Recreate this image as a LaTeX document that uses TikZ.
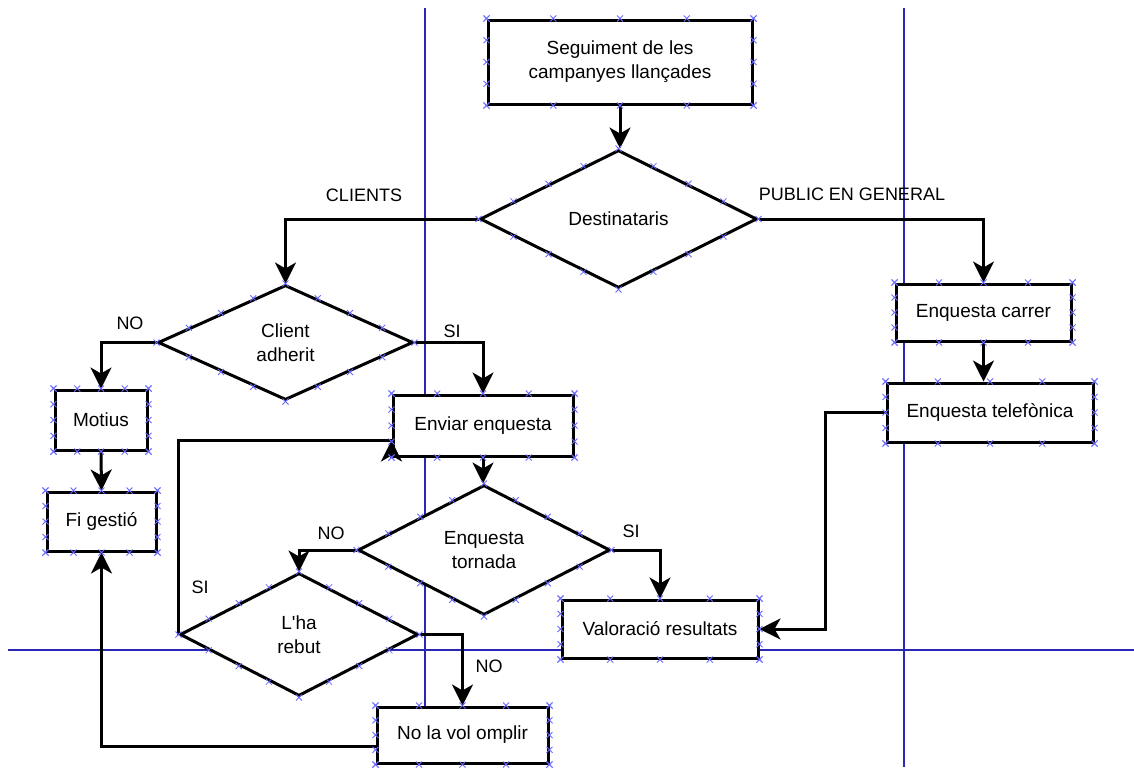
\documentclass[tikz,border=0pt]{standalone}
\usepackage{fontspec}
\setmainfont{Liberation Sans}[Ligatures=TeXOff]
\usetikzlibrary{shapes.geometric,arrows.meta,calc}
\definecolor{guide}{RGB}{40,40,180}
\definecolor{portblue}{RGB}{105,105,255}

% connection-point crosses along the borders of a box
\newcommand\boxports[1]{%
  \foreach \t in {0,0.25,0.5,0.75,1}{%
    \pic at ($(#1.north west)!\t!(#1.north east)$) {xmark};
    \pic at ($(#1.south west)!\t!(#1.south east)$) {xmark};
    \pic at ($(#1.north west)!\t!(#1.south west)$) {xmark};
    \pic at ($(#1.north east)!\t!(#1.south east)$) {xmark};
  }}
% connection-point crosses along the edges of a decision
\newcommand\decports[1]{%
  \foreach \t in {0,0.25,0.5,0.75}{%
    \pic at ($(#1.north)!\t!(#1.east)$) {xmark};
    \pic at ($(#1.east)!\t!(#1.south)$) {xmark};
    \pic at ($(#1.south)!\t!(#1.west)$) {xmark};
    \pic at ($(#1.west)!\t!(#1.north)$) {xmark};
  }}

\begin{document}
\begin{tikzpicture}[x=1pt,y=-1pt,
  line join=miter,
  every node/.style={font=\fontsize{19}{24}\selectfont, align=center, inner sep=0pt},
  box/.style={draw, rectangle, line width=3pt, fill=white},
  decision/.style={draw, diamond, aspect=2, line width=3pt, fill=white},
  lbl/.style={font=\fontsize{18}{22}\selectfont},
  wire/.style={line width=3pt},
  conn/.style={line width=3pt, -{Stealth[length=21pt,width=21pt,inset=6pt]}},
  guideline/.style={guide, line width=1.5pt},
  xmark/.pic={\draw[portblue, line width=0.8pt] (-3,-3) -- (3,3) (-3,3) -- (3,-3);}]

\useasboundingbox (0,0) rectangle (1134,772);

% guide lines behind the chart
\draw[guideline] (425,8) -- (425,707);
\draw[guideline] (904,8) -- (904,767);
\draw[guideline] (8,650) -- (1134,650);

% steps and decisions
\node[box, minimum width=264pt, minimum height=84pt] (S) at (620,62) {Seguiment de les\\campanyes llançades};
\node[decision, minimum width=277pt, minimum height=138pt] (D) at (618.5,219) {Destinataris};
\node[decision, minimum width=255pt, minimum height=115pt] (CA) at (285.5,342.5) {Client\\adherit};
\node[box, minimum width=180pt, minimum height=61pt] (E) at (483,425.5) {Enviar enquesta};
\node[decision, minimum width=252pt, minimum height=130pt] (ET) at (484,550) {Enquesta\\tornada};
\node[decision, minimum width=238pt, minimum height=123pt] (L) at (299,634.5) {L'ha\\rebut};
\node[box, minimum width=171pt, minimum height=56pt] (N) at (462.5,735) {No la vol omplir};
\node[box, minimum width=196pt, minimum height=58pt] (V) at (660,629) {Valoració resultats};
\node[box, minimum width=175pt, minimum height=57pt] (C) at (983.5,312.5) {Enquesta carrer};
\node[box, minimum width=206pt, minimum height=59pt] (T) at (990,412.5) {Enquesta telefònica};
\node[box, minimum width=92pt, minimum height=60pt] (M) at (101,420) {Motius};
\node[box, minimum width=109pt, minimum height=59pt] (F) at (101.5,521.5) {Fi gestió};

% branch labels
\node[lbl] (lclients) at (364,195) {CLIENTS};
\node[lbl] (lpublic) at (852,194) {PUBLIC EN GENERAL};
\node[lbl] (lcano) at (130,323) {NO};
\node[lbl] (lcasi) at (452,331) {SI};
\node[lbl] (letno) at (331,533) {NO};
\node[lbl] (letsi) at (631,531) {SI};
\node[lbl] (llsi) at (200,587) {SI};
\node[lbl] (llno) at (489,666) {NO};

% connectors
\draw[conn] (S.south) -- (S.south |- D.north);
\draw[conn] (D.west) -| (CA.north);
\draw[conn] (D.east) -| (C.north);
\draw[conn] (CA.west) -| (M.north);
\draw[conn] (CA.east) -| (E.north);
\draw[conn] (M.south) -- (F.north);
\draw[conn] (C.south) -- (C.south |- T.north);
\coordinate (tv) at (825,412.5);
\draw[conn] (T.west) -- (tv) |- (V.east);
\draw[conn] (E.south) -- (E.south |- ET.north);
\draw[conn] (ET.west) -| (L.north);
\draw[conn] (ET.east) -| (V.north);
\coordinate (eback) at ($(E.south west)+(0,-17)$);
\draw[wire] (L.west) |- (eback);
\draw[conn] (E.south west) -- (eback);
\draw[conn] (L.east) -| (N.north);
\coordinate (nl) at ($(N.west)+(0,11)$);
\draw[conn] (nl) -| (F.south);

% connection points
\boxports{S}
\boxports{E}
\boxports{N}
\boxports{V}
\boxports{C}
\boxports{T}
\boxports{M}
\boxports{F}
\decports{D}
\decports{CA}
\decports{ET}
\decports{L}

\end{tikzpicture}
\end{document}
